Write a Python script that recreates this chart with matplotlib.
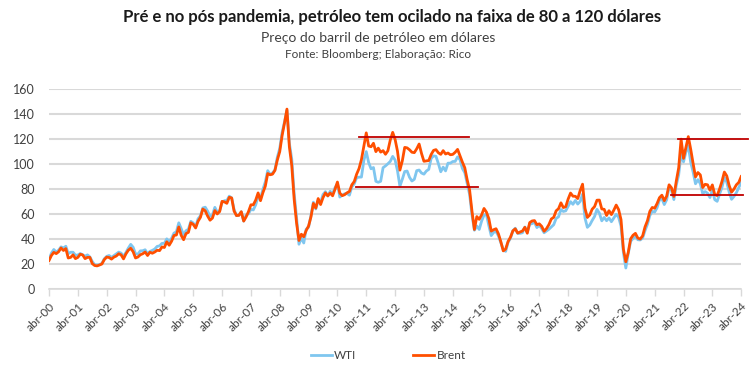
import numpy as np
import matplotlib.pyplot as plt
from matplotlib.lines import Line2D

plt.rcParams['font.family'] = ['Lato', 'DejaVu Sans']

# Monthly prices, abr-2000 .. abr-2024 (US$ per barrel)
brent = [
    23, 27, 29.5, 28.5, 30, 33, 31, 32.5, 25,                                   # 2000 (Apr-Dec)
    25.5, 27.5, 24.5, 25.5, 28, 27.5, 24.5, 25.5, 25.5, 20.5, 19, 18.7,          # 2001
    19.4, 20.2, 23.7, 25.7, 25.4, 24.1, 25.7, 26.6, 28.4, 27.5, 24.3, 28.3,      # 2002
    31.2, 32.8, 30, 25, 25.8, 27.6, 28.4, 29.8, 27, 29.6, 28.8, 29.8,            # 2003
    31.2, 30.9, 33.8, 33.4, 37.9, 35.2, 38.4, 43, 43.4, 49.8, 43.1, 39.6,        # 2004
    44.5, 45.5, 53.1, 51.9, 49, 54.3, 57.5, 64.1, 62.7, 58.5, 55.2, 56.9,        # 2005
    62.9, 60.2, 62.1, 70.3, 69.8, 68.7, 73.5, 73, 62.5, 58.9, 59.1, 62,          # 2006
    54.5, 57.8, 62.1, 67.5, 67.5, 71.3, 77, 70.8, 77.2, 82.4, 92.5, 91.5,        # 2007
    92, 95, 103.3, 110, 123, 133, 144, 114, 99, 72, 53, 39,                      # 2008
    44, 42, 47, 50.6, 57.9, 68.6, 64.9, 72.5, 67.7, 73.2, 77, 74.7,              # 2009
    76.9, 74.7, 79.9, 85.7, 76.9, 74.8, 75.6, 77.1, 78.2, 83.5, 86.1, 92,        # 2010
    96.5, 103.7, 114.6, 125, 114.5, 113.9, 116.7, 110, 112.8, 109.6, 110.8, 107.9,  # 2011
    110.7, 119.3, 125.4, 119.8, 110.3, 95.2, 102.6, 113.4, 113, 111.5, 109.5, 109.2,  # 2012
    112.3, 116.1, 108.5, 102.3, 102.6, 102.9, 107.7, 111, 111.6, 109.1, 107.8, 110.8,  # 2013
    108.1, 108.9, 107.5, 107.8, 109.5, 111.8, 106.8, 101.6, 97.1, 87.4, 79.4, 62.3,    # 2014
    47.8, 58.1, 55.9, 59.5, 64.6, 61.7, 56.5, 46.5, 47.6, 48.4, 44.3, 38,        # 2015
    30.7, 32.2, 38.2, 41.6, 46.7, 48.3, 44.9, 45.8, 46.6, 49.5, 44.8, 53.3,      # 2016
    54.6, 54.9, 51.6, 52.3, 50.3, 46.4, 48.5, 51.7, 56.2, 57.5, 62.7, 64.4,      # 2017
    69.1, 65.3, 66, 72.1, 76.9, 74.4, 74.3, 72.5, 78.9, 84, 64.8, 57.4,          # 2018
    59.4, 64, 66.1, 71.2, 71.3, 64.2, 63.9, 59, 62.8, 59.7, 63.2, 67.3,          # 2019
    63.7, 55.7, 32, 22, 29.4, 40.3, 43.2, 44.7, 40.9, 40.2, 42.7, 49.9,          # 2020
    54.8, 62.3, 65.4, 64.8, 68.5, 73.2, 75.2, 70.8, 74.5, 83.5, 81.1, 74.2,      # 2021
    86.5, 97.1, 120, 104.6, 113.3, 122, 111.9, 100.5, 89.8, 93.3, 91.4, 81.3,    # 2022
    83.9, 83.5, 79.2, 83.4, 75.7, 74.9, 80.1, 86.2, 93.7, 90.6, 82.9, 77.6,      # 2023
    80.1, 83.5, 85.4, 90.1,                                                      # 2024 (Jan-Apr)
]

wti = [
    24, 28.8, 31.8, 29.7, 31.3, 33.9, 33.1, 34.4, 28.5,                          # 2000
    29.6, 29.6, 27.2, 27.4, 28.6, 27.6, 26.5, 27.5, 25.9, 22.2, 19.6, 19.3,      # 2001
    19.7, 20.7, 24.4, 26.3, 27, 25.5, 26.9, 28.4, 29.7, 28.9, 26.3, 29.4,        # 2002
    32.9, 35.9, 33.6, 28.3, 28.1, 30.7, 30.8, 31.6, 28.3, 30.3, 31.1, 32.2,      # 2003
    34.3, 34.7, 36.7, 36.7, 40.3, 38, 40.7, 44.9, 45.9, 53.1, 48.5, 43.3,        # 2004
    46.8, 48, 54.3, 53, 49.8, 56.3, 58.7, 65, 65.6, 62.4, 58.3, 59.4,            # 2005
    65.5, 61.6, 62.7, 69.4, 70.8, 70.9, 74.4, 73, 63.8, 58.9, 59.1, 62,          # 2006
    54.5, 59.3, 60.4, 63.9, 63.4, 67.5, 74.1, 72.4, 79.9, 85.8, 94.8, 91.7,      # 2007
    93, 95.4, 105.5, 112.6, 125.4, 133.9, 143, 116.7, 104.1, 76.6, 57.3, 36,     # 2008
    41, 37, 48, 49.6, 59, 69.6, 64.2, 71.1, 69.4, 75.7, 78, 74.5,                # 2009
    78.3, 76.4, 81.2, 84.3, 73.7, 75.3, 76.3, 76.6, 75.2, 81.9, 84.3, 89.2,      # 2010
    89.6, 89.7, 103, 110, 101.3, 96.3, 97.3, 86.3, 85.5, 86.3, 97.2, 98.6,       # 2011
    100.3, 102.2, 106.2, 103.3, 94.7, 82.3, 87.9, 94.1, 94.5, 89.5, 86.5, 87.9,  # 2012
    94.8, 95.3, 92.9, 92, 94.5, 95.8, 104.6, 106.6, 106.3, 100.5, 93.9, 97.6,    # 2013
    94.6, 100.8, 100.8, 102.1, 102.2, 105.8, 103.6, 96.5, 93.2, 84.4, 75.8, 59.3,  # 2014
    47.2, 50.6, 47.8, 54.5, 59.3, 59.8, 50.9, 42.9, 45.5, 46.2, 42.7, 37.3,      # 2015
    31.7, 30.3, 37.5, 40.8, 46.7, 48.8, 44.7, 44.7, 45.2, 49.8, 45.7, 52,        # 2016
    52.5, 53.5, 49.3, 51.1, 48.5, 45.2, 46.6, 48, 49.8, 51.6, 56.6, 57.9,        # 2017
    63.7, 62.2, 62.7, 66.3, 70, 67.9, 71, 68.1, 70.2, 76, 57, 49.5,              # 2018
    51.4, 55, 58.2, 63.9, 60.8, 54.7, 57.4, 54.8, 57, 54, 57, 59.9,              # 2019
    57.5, 50.5, 29.2, 17, 28.5, 38.3, 40.7, 42.3, 39.6, 39.4, 41, 47,            # 2020
    52, 59, 62.3, 61.7, 65.2, 71.4, 72.5, 67.7, 71.6, 81.5, 79.2, 71.7,          # 2021
    83.2, 91.6, 108.5, 101.8, 109.6, 114.8, 101.6, 93.7, 84.3, 87.6, 84.4, 76.4,  # 2022
    78.1, 76.8, 73.3, 79.4, 71.6, 70.3, 76, 81.4, 89.4, 85.6, 77.7, 71.9,        # 2023
    74.2, 77.2, 81.3, 85.4,                                                      # 2024
]

years = list(range(2000, 2025))
tick_labels = ['abr-%02d' % (y % 100) for y in years]

# horizontal range lines (start, end, level)
range_lines = [
    (2011.0, 2014.82, 121.5),
    (2010.9, 2015.12, 82),
    (2022.05, 2024.47, 120),
    (2021.83, 2024.33, 75),
]

x = 2000.25 + np.arange(len(brent)) / 12.0

fig = plt.figure(figsize=(7.54, 3.79), dpi=100)
ax = fig.add_axes([0.065, 0.2367, 0.918, 0.5283])

ax.plot(x, wti, color='#7fc6ef', lw=2.0, label='WTI', zorder=3)
ax.plot(x, brent, color='#ff4f00', lw=2.0, label='Brent', zorder=4)

for x0, x1, lvl in range_lines:
    ax.plot([x0, x1], [lvl, lvl], color='#c00000', lw=1.3, zorder=5, clip_on=False)

ax.set_xlim(2000.25, 2024.25)
ax.set_ylim(0, 160)
ax.set_yticks(range(0, 161, 20))
ax.grid(axis='y', color='#d9d9d9', lw=1.5)
ax.set_axisbelow(True)

ax.set_xticks([y + 0.25 for y in years])
ax.set_xticklabels(tick_labels, rotation=45, ha='right', rotation_mode='anchor')

for s in ['top', 'right', 'left']:
    ax.spines[s].set_visible(False)
ax.spines['bottom'].set_color('#d9d9d9')
ax.spines['bottom'].set_linewidth(1.2)
ax.tick_params(axis='y', length=0, pad=10, labelsize=9, labelcolor='#404040')
ax.tick_params(axis='x', length=5, color='#d9d9d9', width=1, labelsize=8.5, labelcolor='#404040', pad=3)

fig.text(0.52, 0.955, 'Pré e no pós pandemia, petróleo tem ocilado na faixa de 80 a 120 dólares',
         ha='center', va='center', fontsize=12, fontweight='bold', color='#1a1a1a')
fig.text(0.502, 0.9, 'Preço do barril de petróleo em dólares',
         ha='center', va='center', fontsize=10, color='#404040')
fig.text(0.502, 0.857, 'Fonte: Bloomberg; Elaboração: Rico',
         ha='center', va='center', fontsize=8.5, color='#404040')

handles = [Line2D([], [], color='#7fc6ef', lw=2), Line2D([], [], color='#ff4f00', lw=2)]
fig.legend(handles, ['WTI', 'Brent'], loc='center', bbox_to_anchor=(0.515, 0.062), ncol=2,
           frameon=False, fontsize=8.5, handlelength=1.8, handletextpad=0.2, columnspacing=4.8,
           labelcolor='#404040')

fig.savefig('out.png', dpi=100)
